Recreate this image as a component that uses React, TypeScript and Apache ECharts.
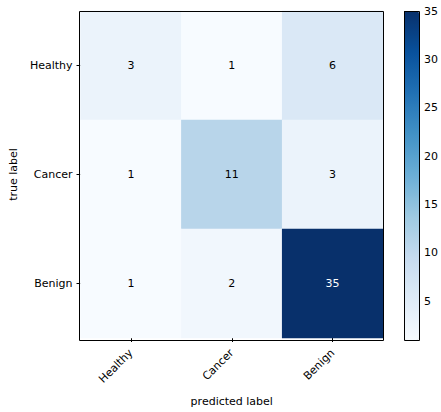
import React, { useEffect, useRef } from "react";
import * as echarts from "echarts";

const trueLabels = ["Healthy", "Cancer", "Benign"];
const predLabels = ["Healthy", "Cancer", "Benign"];
const matrix = [
  [3, 1, 6],
  [1, 11, 3],
  [1, 2, 35],
];
const colorbarTicks = [5, 10, 15, 20, 25, 30, 35];
const blues = ["#f7fbff", "#deebf7", "#c6dbef", "#9ecae1", "#6baed6", "#4292c6", "#2171b5", "#08519c", "#08306b"];

export default function App() {
  const ref = useRef<HTMLDivElement>(null);
  useEffect(() => {
    document.body.style.margin = "0";
    const chart = echarts.init(ref.current!, undefined, { renderer: "svg" });
    const all = matrix.flat();
    const vmin = Math.min(...all);
    const vmax = Math.max(...all);
    const thresh = vmax / 2;
    const data: any[] = [];
    matrix.forEach((row, i) =>
      row.forEach((v, j) => {
        data.push({
          value: [j, i, v],
          label: { color: v > thresh ? "#ffffff" : "#000000" },
        });
      })
    );
    const font = "DejaVu Sans";
    const fs = 11;
    const txt = "#000";
    chart.setOption({
      animation: false,
      textStyle: { fontFamily: font },
      grid: [
        { left: 79, top: 11, width: 304, height: 329 },
        { left: 404, top: 11, width: 15, height: 329 },
      ],
      xAxis: [
        {
          type: "category",
          gridIndex: 0,
          data: predLabels,
          name: "predicted label",
          nameLocation: "middle",
          nameGap: 58,
          nameTextStyle: { fontSize: fs, color: txt, fontFamily: font },
          axisLine: { show: false },
          axisTick: { show: true, alignWithLabel: true, length: 4, lineStyle: { color: "#000" } },
          axisLabel: { rotate: 45, fontSize: fs, color: txt, fontFamily: font, margin: 13 },
          splitLine: { show: false },
          splitArea: { show: false },
        },
        {
          type: "value",
          gridIndex: 1,
          show: false,
        },
      ],
      yAxis: [
        {
          type: "category",
          gridIndex: 0,
          data: trueLabels,
          inverse: true,
          name: "true label",
          nameLocation: "middle",
          nameRotate: 90,
          nameGap: 60,
          nameTextStyle: { fontSize: fs, color: txt, fontFamily: font },
          axisLine: { show: false },
          axisTick: { show: true, alignWithLabel: true, length: 4, lineStyle: { color: "#000" } },
          axisLabel: { fontSize: fs, color: txt, fontFamily: font, margin: 8 },
          splitLine: { show: false },
          splitArea: { show: false },
        },
        {
          type: "value",
          gridIndex: 1,
          position: "right",
          min: vmin,
          max: vmax,
          axisLine: { show: false },
          splitLine: { show: false },
          axisTick: { show: true, length: 4, customValues: colorbarTicks, lineStyle: { color: "#000" } },
          axisLabel: { fontSize: fs, color: txt, fontFamily: font, margin: 6, customValues: colorbarTicks },
        },
      ],
      visualMap: {
        type: "continuous",
        min: vmin,
        max: vmax,
        seriesIndex: 0,
        show: true,
        calculable: false,
        orient: "vertical",
        left: 404,
        top: 11,
        itemWidth: 15,
        itemHeight: 329,
        padding: 0,
        text: ["", ""],
        showLabel: false,
        inRange: { color: blues },
      },
      graphic: [
        {
          type: "rect",
          z: 100,
          shape: { x: 79.5, y: 11.5, width: 304, height: 329 },
          style: { fill: "none", stroke: "#000", lineWidth: 1 },
          silent: true,
        },
        {
          type: "rect",
          z: 100,
          shape: { x: 404.5, y: 11.5, width: 15, height: 329 },
          style: { fill: "none", stroke: "#000", lineWidth: 1 },
          silent: true,
        },
      ],
      series: [
        {
          type: "heatmap",
          xAxisIndex: 0,
          yAxisIndex: 0,
          data,
          label: { show: true, fontSize: fs, fontFamily: font, formatter: (p: any) => String(p.value[2]) },
          itemStyle: { borderWidth: 0 },
          emphasis: { disabled: true },
        },
      ],
    });
    return () => chart.dispose();
  }, []);
  return <div ref={ref} style={{ width: 441, height: 412 }} />;
}
